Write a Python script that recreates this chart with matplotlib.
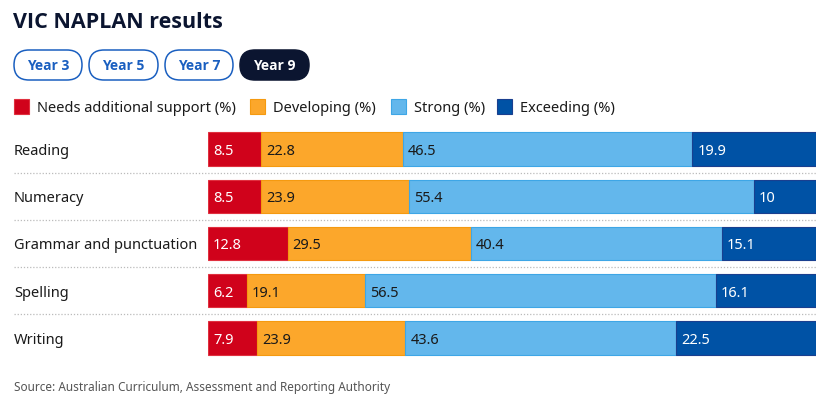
import matplotlib.pyplot as plt
import numpy as np
from matplotlib.patches import FancyBboxPatch, Rectangle

plt.rcParams['font.family'] = ['Noto Sans', 'DejaVu Sans']
BOLD = ['Open Sans', 'DejaVu Sans']

# data
subjects = ['Reading', 'Numeracy', 'Grammar and punctuation', 'Spelling', 'Writing']
needs = [8.5, 8.5, 12.8, 6.2, 7.9]
developing = [22.8, 23.9, 29.5, 19.1, 23.9]
strong = [46.5, 55.4, 40.4, 56.5, 43.6]
exceeding = [19.9, 10, 15.1, 16.1, 22.5]
series_names = ['Needs additional support (%)', 'Developing (%)', 'Strong (%)', 'Exceeding (%)']
years = ['Year 3', 'Year 5', 'Year 7', 'Year 9']

colors = ['#d0021b', '#fca72b', '#63b7ec', '#0052a5']
edges = ['#e0303f', '#f59a10', '#3ea6e6', '#1a3f8f']
txtcol = ['white', '#1a1a1a', '#1a1a1a', 'white']

W, H = 825, 401
fig = plt.figure(figsize=(W / 100, H / 100), dpi=100)

# overlay axes in pixel coords for header / legend / footer
ov = fig.add_axes([0, 0, 1, 1])
ov.set_xlim(0, W)
ov.set_ylim(H, 0)
ov.axis('off')

ov.text(13, 23, 'VIC NAPLAN results', fontsize=15.5, fontweight='bold', family=BOLD,
        color='#0b1530', va='center', ha='left')

# year buttons
bx = [14, 89, 165, 240]
bw = [68, 69, 68, 69]
for i, y in enumerate(years):
    active = (y == 'Year 9')
    p = FancyBboxPatch((bx[i], 50), bw[i], 30,
                       boxstyle='round,pad=0,rounding_size=15',
                       fc='#0b1530' if active else 'white',
                       ec='#0b1530' if active else '#1a5fc0', lw=1.1)
    ov.add_patch(p)
    ov.text(bx[i] + bw[i] / 2, 66.5, y, ha='center', va='center', fontsize=10,
            fontweight='bold', family=BOLD, color='white' if active else '#1a5fc0')

# legend
lx = [14, 250, 391, 497]
for i, name in enumerate(series_names):
    ov.add_patch(Rectangle((lx[i], 99), 15, 15, fc=colors[i], ec=edges[i], lw=0.8))
    ov.text(lx[i] + 23, 108, name, ha='left', va='center', fontsize=10.5, color='#1a1a1a')

ov.text(14, 388, 'Source: Australian Curriculum, Assessment and Reporting Authority',
        ha='left', va='center', fontsize=8.5, color='#555555')

# bar axes
x0, x1 = 208, 816
ytop, ybot = 125.4, 361.6
ax = fig.add_axes([x0 / W, 1 - ybot / H, (x1 - x0) / W, (ybot - ytop) / H])
ax.set_xlim(0, 1)
ax.set_ylim(len(subjects) - 0.5, -0.5)
ax.axis('off')

data = np.array([needs, developing, strong, exceeding])
totals = data.sum(axis=0)
ypos = np.arange(len(subjects))
left = np.zeros(len(subjects))
for k in range(4):
    w = data[k] / totals
    ax.barh(ypos, w, left=left, height=0.7, color=colors[k], edgecolor=edges[k], lw=0.8)
    for j in range(len(subjects)):
        v = data[k][j]
        lab = ('%g' % v)
        ax.text(left[j] + 5 / (x1 - x0), ypos[j] + 0.05, lab, ha='left', va='center',
                fontsize=10.5, color=txtcol[k])
    left = left + w

off = (14 - x0) / (x1 - x0)
for j, s in enumerate(subjects):
    ax.text(off, ypos[j] + 0.05, s, transform=ax.get_yaxis_transform(), ha='left', va='center',
            fontsize=10.5, color='#1a1a1a')
for j in range(len(subjects) - 1):
    ax.axhline(j + 0.5, xmin=off, xmax=1, color='#bbbbbb', lw=0.9, ls=(0, (1, 1.5)), clip_on=False)

fig.savefig('out.png', dpi=100)
